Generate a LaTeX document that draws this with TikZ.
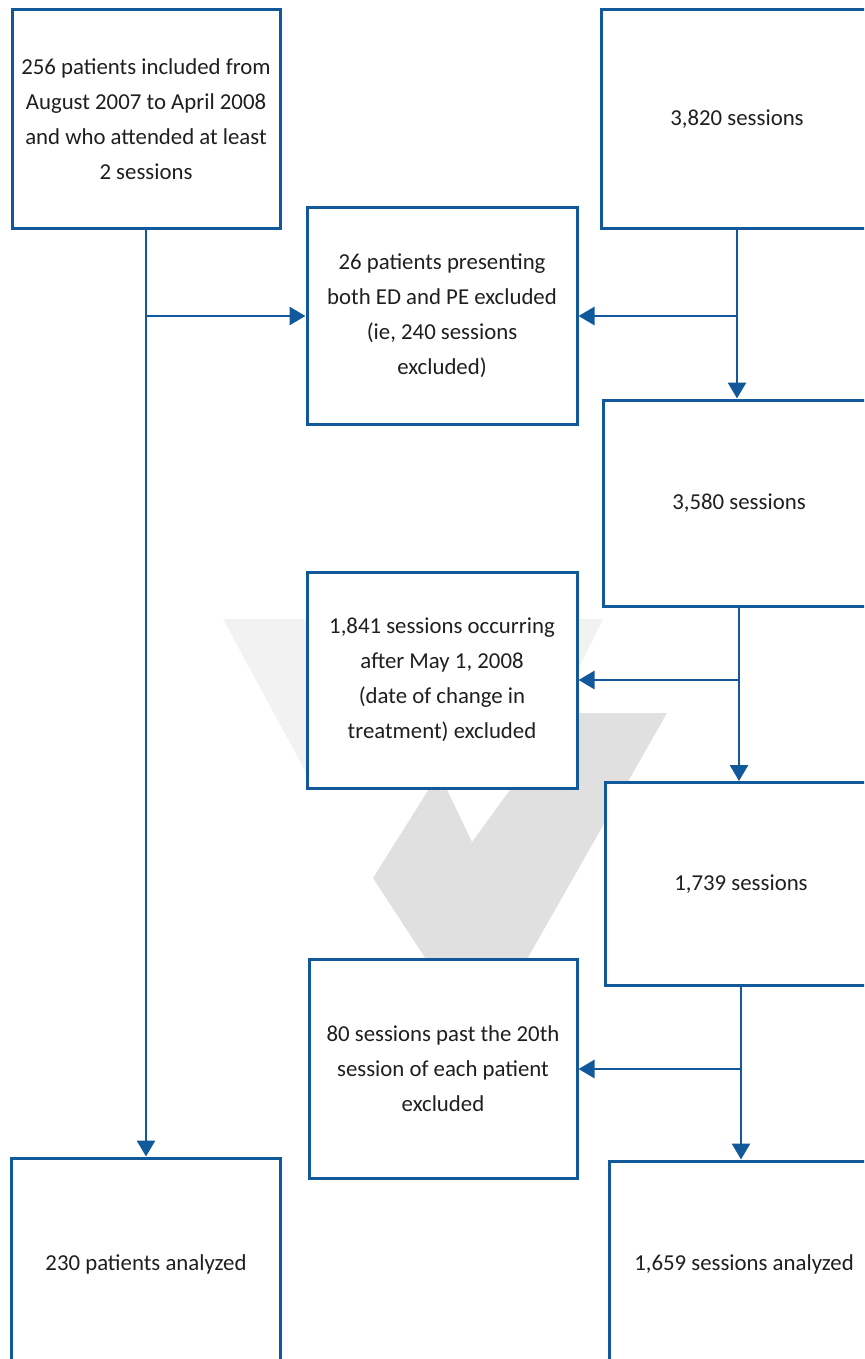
\documentclass[tikz,border=0pt]{standalone}
\usepackage{fontspec}
\setmainfont{Carlito}
\usetikzlibrary{arrows.meta, positioning, calc}
\definecolor{boxblue}{RGB}{18,89,155}
\definecolor{markgray}{RGB}{224,224,224}
\definecolor{marklight}{RGB}{242,242,242}
\newcommand{\pxu}{0.5pt}

\begin{document}
\begin{tikzpicture}[x=\pxu, y=-\pxu,
    box/.style={draw=boxblue, line width=1.5pt, fill=white, align=center, inner sep=0pt,
        text=black!88, font=\fontsize{11.4}{17.5}\selectfont},
    flow/.style={draw=boxblue, line width=1.4pt, -{Triangle[length=8pt,width=9pt]}}
]

% page frame, boxes run off the right and bottom edges
\useasboundingbox (0,0) rectangle (864,1359);
\clip (0,0) rectangle (864,1359);

% watermark behind the chart
\fill[marklight] (223,619) -- (603,619) -- (570,686) -- (570,780) -- (310,780) -- cycle;
\fill[markgray] (373,878) -- (439,773) -- (472,842) -- (566,713) -- (667,713) -- (480,1042) -- cycle;

% Patients (left column)
\node[box, minimum width=268*\pxu, minimum height=218*\pxu] (pt0) at (146,119)
    {256 patients included from\\ August 2007 to April 2008\\ and who attended at least\\ 2 sessions};
\node[box, minimum width=269*\pxu, minimum height=212*\pxu] (pt1) at (146,1264)
    {230 patients analyzed};

% Exclusions (middle column)
\node[box, minimum width=270*\pxu, minimum height=217*\pxu] (ex1) at (442,316)
    {26 patients presenting\\ both ED and PE excluded\\ (ie, 240 sessions\\ excluded)};
\node[box, minimum width=270*\pxu, minimum height=216*\pxu] (ex2) at (442,680)
    {1,841 sessions occurring\\ after May 1, 2008\\ (date of change in\\ treatment) excluded};
\node[box, minimum width=268*\pxu, minimum height=219*\pxu] (ex3) at (443,1069)
    {80 sessions past the 20th\\ session of each patient\\ excluded};

% Sessions (right column)
\node[box, minimum width=272*\pxu, minimum height=218*\pxu] (s0) at (737,119) {3,820 sessions};
\node[box, minimum width=272*\pxu, minimum height=206*\pxu] (s1) at (739,503) {3,580 sessions};
\node[box, minimum width=272*\pxu, minimum height=203*\pxu] (s2) at (741,884) {1,739 sessions};
\node[box, minimum width=270*\pxu, minimum height=206*\pxu] (s3) at (744,1264) {1,659 sessions analyzed};

% patient flow
\draw[flow] (pt0.south) -- (pt1.north);
\draw[flow] (pt0.south |- ex1.west) -- (ex1.west);

% session flow
\foreach \a/\b/\e in {s0/s1/ex1, s1/s2/ex2, s2/s3/ex3} {
    \draw[flow] (\a.south) -- (\a.south |- \b.north);
    \draw[flow] (\a.south |- \e.east) -- (\e.east);
}

\end{tikzpicture}
\end{document}
